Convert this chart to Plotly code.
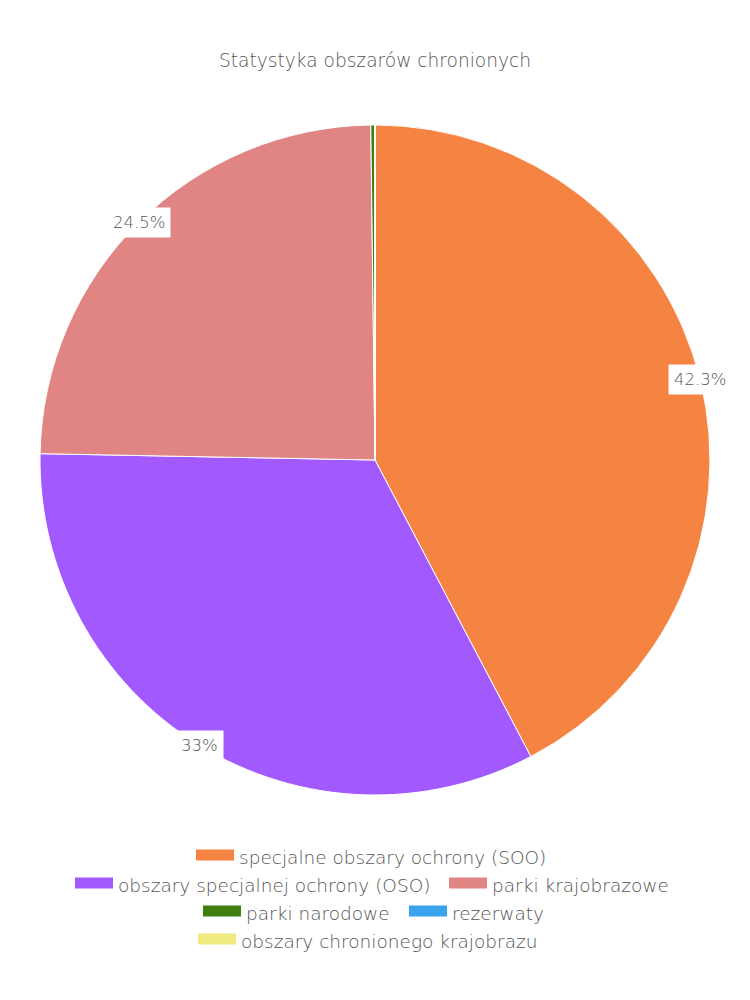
import math
import plotly.graph_objects as go

title = "Statystyka obszarów chronionych"
categories = [
    "specjalne obszary ochrony (SOO)",
    "obszary specjalnej ochrony (OSO)",
    "parki krajobrazowe",
    "parki narodowe",
    "rezerwaty",
    "obszary chronionego krajobrazu",
]
values = [42.3, 33.0, 24.5, 0.2, 0.0, 0.0]
colors = ["#f58442", "#a25aff", "#e08484", "#3f7f0f", "#3aa3ec", "#efeb7f"]

FONT = "DejaVu Sans"
GREY = "#555555"
W, H = 750, 1000
cx, cy, R = 375, 460, 335

# legend layout (pixel positions of each entry's swatch: left edge, row centre)
legend_left = [196, 75, 449, 203, 409, 198]
legend_mid = [857, 885, 885, 913, 913, 941]
SW_OFF = 5  # offset between legend box edge and swatch start

fig = go.Figure()
fig.add_trace(go.Pie(
    labels=categories, values=values, sort=False, direction="clockwise",
    rotation=0, marker=dict(colors=colors, line=dict(color="white", width=1)),
    textinfo="none", showlegend=False, hoverinfo="label+percent",
    domain=dict(x=[0, 1], y=[(H - cy - R) / H, (H - cy + R) / H]),
))

for i, name in enumerate(categories):
    lname = "legend" if i == 0 else f"legend{i+1}"
    fig.add_trace(go.Scatter(
        x=[None], y=[None], mode="lines", name=name, fill="toself",
        fillcolor=colors[i],
        line=dict(color=colors[i], width=10), legend=lname, hoverinfo="skip",
    ))
    fig.layout[lname] = dict(
        orientation="h", x=(legend_left[i] - SW_OFF) / W, xanchor="left",
        y=1 - legend_mid[i] / H, yanchor="middle", itemwidth=38,
        font=dict(family=FONT, size=18.5, color=GREY, weight=200),
        bgcolor="rgba(0,0,0,0)", itemclick=False, itemdoubleclick=False,
    )

# percentage labels at slice mid-angles
total = sum(values)
cum = 0.0
annotations = []
for v in values:
    frac = v / total
    mid = (cum + frac / 2) * 2 * math.pi
    cum += frac
    pct = round(frac * 100, 1)
    if pct < 1:
        continue
    px = cx + R * math.sin(mid)
    py = cy - R * math.cos(mid)
    annotations.append(dict(
        x=px / W, y=1 - py / H, xref="paper", yref="paper", showarrow=False,
        text=f"{pct:g}%", font=dict(family=FONT, size=16.5, color=GREY, weight=200),
        bgcolor="white", borderpad=5, xanchor="center", yanchor="middle",
    ))

fig.update_layout(
    width=W, height=H, margin=dict(l=0, r=0, t=0, b=0),
    paper_bgcolor="white", plot_bgcolor="white",
    title=dict(text=title, x=0.5, xanchor="center", y=1 - 60 / H, yanchor="middle",
               font=dict(family=FONT, size=18.6, color=GREY, weight=200)),
    xaxis=dict(visible=False), yaxis=dict(visible=False),
    annotations=annotations,
)

fig.write_html("out.html")
